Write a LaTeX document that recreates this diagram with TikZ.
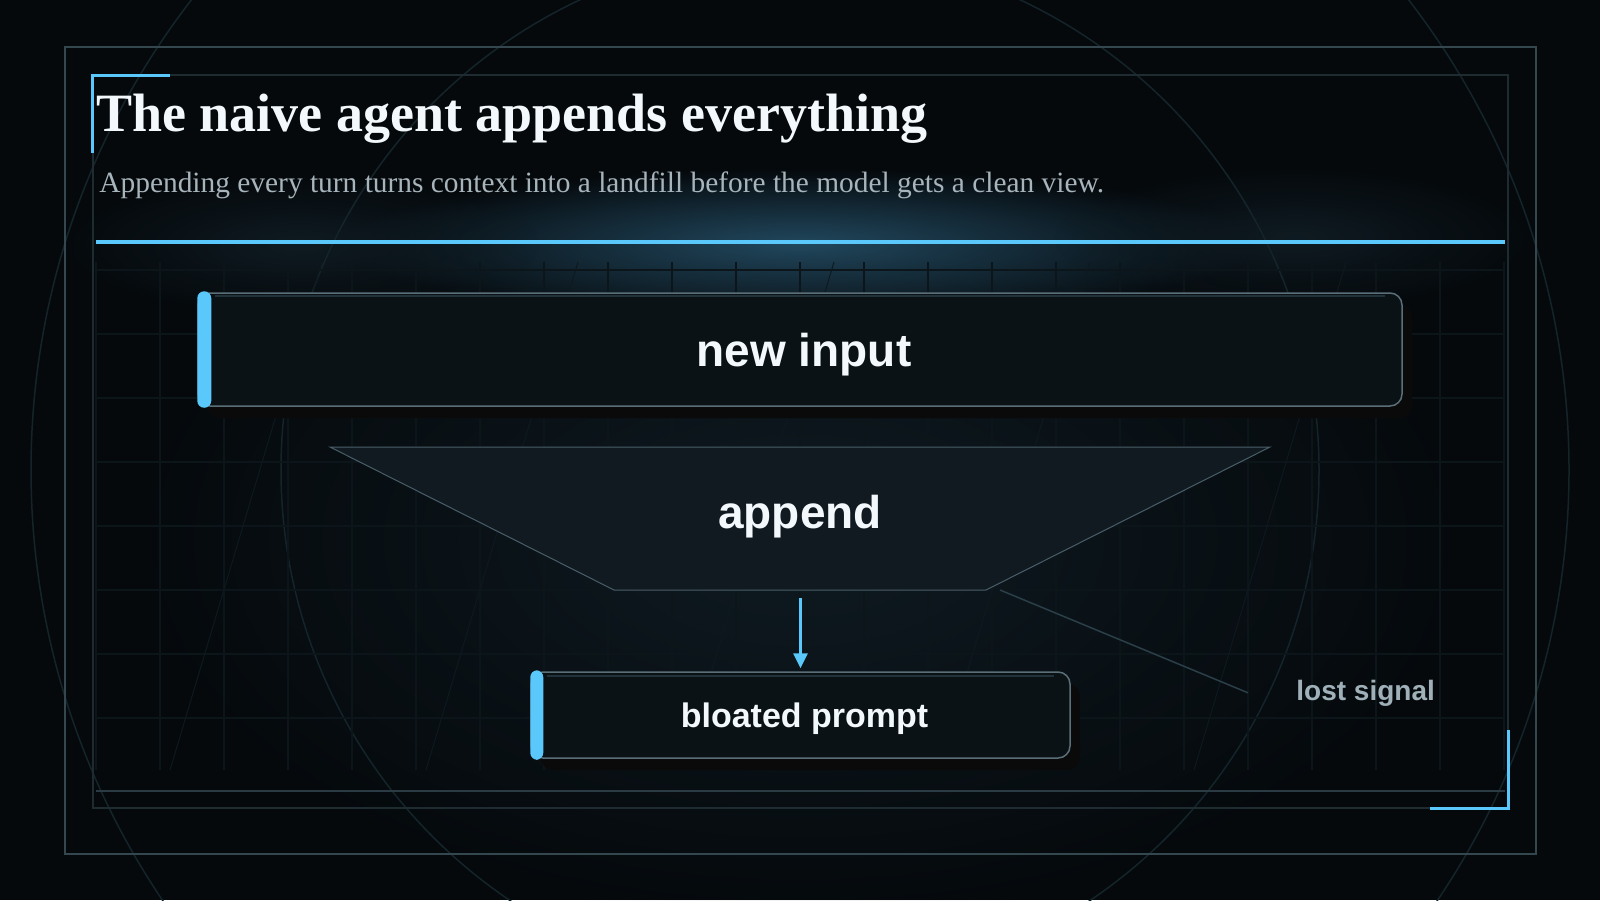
\documentclass[tikz,border=0pt]{standalone}
\usepackage{fontspec}
\setmainfont{Liberation Serif}
\newfontfamily\boxfont{Liberation Sans}
\usetikzlibrary{arrows.meta,shadows,fadings}

\definecolor{bgc}{HTML}{05090C}
\definecolor{gridc}{HTML}{0C151A}
\definecolor{ringc}{HTML}{14242B}
\definecolor{slantc}{HTML}{0E191F}
\definecolor{outerc}{HTML}{34474F}
\definecolor{innerc}{HTML}{1E2B31}
\definecolor{edgec}{HTML}{2A3B43}
\definecolor{accent}{HTML}{5AC8FA}
\definecolor{boxfill}{HTML}{0A1216}
\definecolor{boxline}{HTML}{5B6F79}
\definecolor{sheenc}{HTML}{22323A}
\definecolor{funfill}{HTML}{111A21}
\definecolor{funline}{HTML}{4A5E68}
\definecolor{lostc}{HTML}{9FB0B9}
\definecolor{lostline}{HTML}{2B3F48}
\definecolor{titlec}{HTML}{F2F8FB}
\definecolor{subc}{HTML}{A7B4BB}
\definecolor{glowtop}{HTML}{21475D}
\definecolor{glowmid}{HTML}{0F1B22}

\tikzfading[name=glowfade, inner color=transparent!0, outer color=transparent!100]

\begin{document}
\begin{tikzpicture}[x=0.5pt, y=-0.5pt,
  panel/.style={rounded corners=6pt, fill=boxfill, draw=boxline, line width=0.75pt,
    inner sep=0pt, text=titlec, text depth=0pt,
    drop shadow={shadow xshift=5pt, shadow yshift=-6pt, opacity=1, fill=black!96}},
  rail/.style={fill=accent, rounded corners=3.5pt},
  sheen/.style={draw=sheenc, line width=1pt},
  flow/.style={draw=accent, line width=1.5pt, -{Triangle[width=7pt,length=7.5pt]}},
  bigtext/.style={font=\boxfont\bfseries\fontsize{23}{28}\selectfont}]
  \useasboundingbox (0,0) rectangle (1600,900);
  \fill[bgc] (0,0) rectangle (1600,900);

  \fill[glowmid, path fading=glowfade] (800,540) ellipse [x radius=340pt, y radius=190pt];
  \fill[glowtop, path fading=glowfade] (800,244) ellipse [x radius=230pt, y radius=38pt];
  \fill[glowmid, path fading=glowfade] (300,245) ellipse [x radius=120pt, y radius=36pt];
  \fill[glowmid, path fading=glowfade] (1295,238) ellipse [x radius=120pt, y radius=36pt];

  \draw[ringc, line width=0.75pt] (800,470) circle [radius=384.5pt];
  \draw[ringc, line width=0.75pt] (800,470) circle [radius=259.5pt];

  \foreach \gx in {96,160,...,1504}
    \draw[gridc, line width=0.6pt] (\gx,262) -- (\gx,770);
  \foreach \gy in {270,334,...,718}
    \draw[gridc, line width=0.6pt] (96,\gy) -- (1505,\gy);
  \foreach \k in {0,...,4}
    \draw[slantc, line width=0.5pt] (170+256*\k,770) -- (322+256*\k,262);

  \draw[outerc, line width=1pt] (65,47) rectangle (1536,854);
  \draw[innerc, line width=1pt] (93,75) rectangle (1508,808);
  \draw[edgec, line width=1pt] (96,791) -- (1505,791);
  \draw[accent, line width=1.5pt] (92,153) -- (92,75) -- (170,75);
  \draw[accent, line width=1.5pt] (1430,808) -- (1508,808) -- (1508,730);

  \node[anchor=base west, inner sep=0pt, text=titlec,
    font=\bfseries\fontsize{27}{32}\selectfont] (title) at (96,131) {The naive agent appends everything};
  \node[anchor=base west, inner sep=0pt, text=subc,
    font=\fontsize{14.7}{18}\selectfont] (subtitle) at (99,192) {Appending every turn turns context into a landfill before the model gets a clean view.};
  \draw[accent, line width=2pt] (96,242) -- (1505,242);

  \node[panel, bigtext, minimum width=602pt, minimum height=56.5pt, text height=16.5pt] (newin) at (800,349.5) {\hspace{4pt}new input};
  \fill[rail] ([yshift=0.5pt]newin.north west) rectangle ([xshift=7pt,yshift=-0.5pt]newin.south west);
  \draw[sheen] ([xshift=9pt,yshift=-1.75pt]newin.north west) -- ([xshift=-9pt,yshift=-1.75pt]newin.north east);

  \coordinate (ftl) at (330,447);
  \coordinate (ftr) at (1270,447);
  \coordinate (fbr) at (986,590);
  \coordinate (fbl) at (614,590);
  \coordinate (fout) at (800.5,590);
  \coordinate (leak) at (1000,590);
  \filldraw[fill=funfill, draw=funline, line width=0.5pt] (ftl) -- (ftr) -- (fbr) -- (fbl) -- cycle;
  \node[bigtext, inner sep=0pt, text=titlec, text height=16pt, text depth=0pt] (append) at (800,512) {append};

  \node[panel, minimum width=269.5pt, minimum height=43pt, text height=12pt,
    font=\boxfont\bfseries\fontsize{17}{20}\selectfont] (prompt) at (800.5,715) {\hspace{4pt}bloated prompt};
  \fill[rail] ([yshift=0.5pt]prompt.north west) rectangle ([xshift=6.5pt,yshift=-0.5pt]prompt.south west);
  \draw[sheen] ([xshift=8.5pt,yshift=-2.25pt]prompt.north west) -- ([xshift=-8.5pt,yshift=-2.25pt]prompt.north east);

  \draw[flow, shorten <=4pt, shorten >=1.5pt] (fout) -- (prompt.north);

  \node[anchor=base west, inner sep=0pt, text=lostc,
    font=\boxfont\bfseries\fontsize{14}{17}\selectfont] (lost) at (1296,700) {lost signal};
  \draw[lostline, line width=0.75pt] (leak) -- ([xshift=-24pt]lost.west);
\end{tikzpicture}
\end{document}
